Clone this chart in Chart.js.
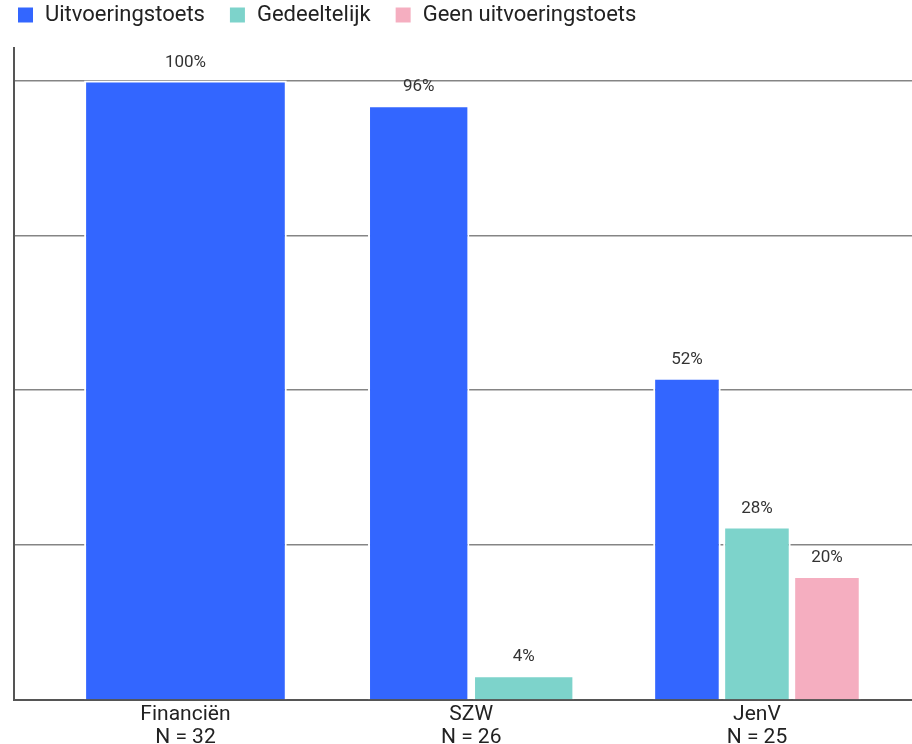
<!DOCTYPE html>
<html>
<head>
<meta charset="utf-8">
<script src="https://cdn.jsdelivr.net/npm/chart.js@4"></script>
<style>
  html, body { margin: 0; padding: 0; background: #fff; }
  #wrap { width: 912px; height: 744px; }
</style>
</head>
<body>
<div id="wrap"><canvas id="myChart"></canvas></div>
<script>
const categories = ['Financiën', 'SZW', 'JenV']
const counts = [32, 26, 25]
const seriesNames = ['Uitvoeringstoets', 'Gedeeltelijk', 'Geen uitvoeringstoets']
const uitvoeringstoets = [100, 96, 52]
const gedeeltelijk = [null, 4, 28]
const geenToets = [null, null, 20]
const yTicks = [0, 25, 50, 75, 100]

const colors = ['#3366ff', '#7dd3cb', '#f5aec0']

// ***** labels boven de balken *****
const valueLabels = {
  id: 'valueLabels',
  afterDatasetsDraw(chart) {
    const ctx = chart.ctx
    ctx.save()
    ctx.font = '17px Roboto'
    ctx.fillStyle = '#333'
    ctx.textAlign = 'center'
    ctx.textBaseline = 'middle'
    chart.data.datasets.forEach((ds, i) => {
      chart.getDatasetMeta(i).data.forEach((bar, j) => {
        const v = ds.data[j]
        if (v === null) return
        ctx.fillText(v + '%', bar.x, bar.y - 18)
      })
    })
    ctx.restore()
  }
}

const ctx = document.getElementById('myChart').getContext('2d')
const myChart = new Chart(ctx, {
  type: 'bar',
  data: {
    labels: categories.map((c, i) => [c, 'N = ' + counts[i]]),
    datasets: [uitvoeringstoets, gedeeltelijk, geenToets].map((d, i) => ({
      label: seriesNames[i],
      data: d,
      backgroundColor: colors[i],
      borderColor: '#fff',
      borderWidth: 2,
      skipNull: true,
      categoryPercentage: 0.735,
      barPercentage: 0.965
    }))
  },
  plugins: [valueLabels],
  options: {
    responsive: true,
    maintainAspectRatio: false,
    animation: false,
    layout: { padding: { top: -20, left: -7, right: 0, bottom: 0 } },
    plugins: {
      legend: {
        align: 'start',
        weight: 3000,
        labels: {
          font: { family: 'Roboto', size: 22 },
          color: '#222',
          boxWidth: 17,
          boxHeight: 17,
          padding: 24
        }
      },
      title: {
        display: true,
        text: '',
        weight: 500,
        font: { size: 1 },
        padding: { top: 0, bottom: 11 }
      },
      tooltip: { enabled: false }
    },
    scales: {
      x: {
        grid: { display: false, drawTicks: false },
        border: { display: true, color: '#555', width: 2 },
        ticks: {
          font: { family: 'Roboto', size: 21, lineHeight: 1.1 },
          color: '#222',
          padding: 3,
          maxRotation: 0
        },
        afterFit: s => { s.height = 44 },
        afterBuildTicks: s => {
          // categorieën iets naar rechts, zoals in het origineel
          s._startValue = -0.6
          s._valueRange = 3.1426
        }
      },
      y: {
        min: 0,
        max: 105.2,
        afterBuildTicks: s => { s.ticks = yTicks.concat([105.2]).map(v => ({ value: v })) },
        afterFit: s => { s.width = 21 },
        ticks: { display: false },
        grid: {
          drawTicks: false,
          lineWidth: 1.5,
          color: c => (c.tick && c.tick.value > 0 && c.tick.value <= 100) ? '#858585' : 'rgba(0,0,0,0)'
        },
        border: { display: true, color: '#555', width: 2 }
      }
    }
  }
})
</script>
</body>
</html>
